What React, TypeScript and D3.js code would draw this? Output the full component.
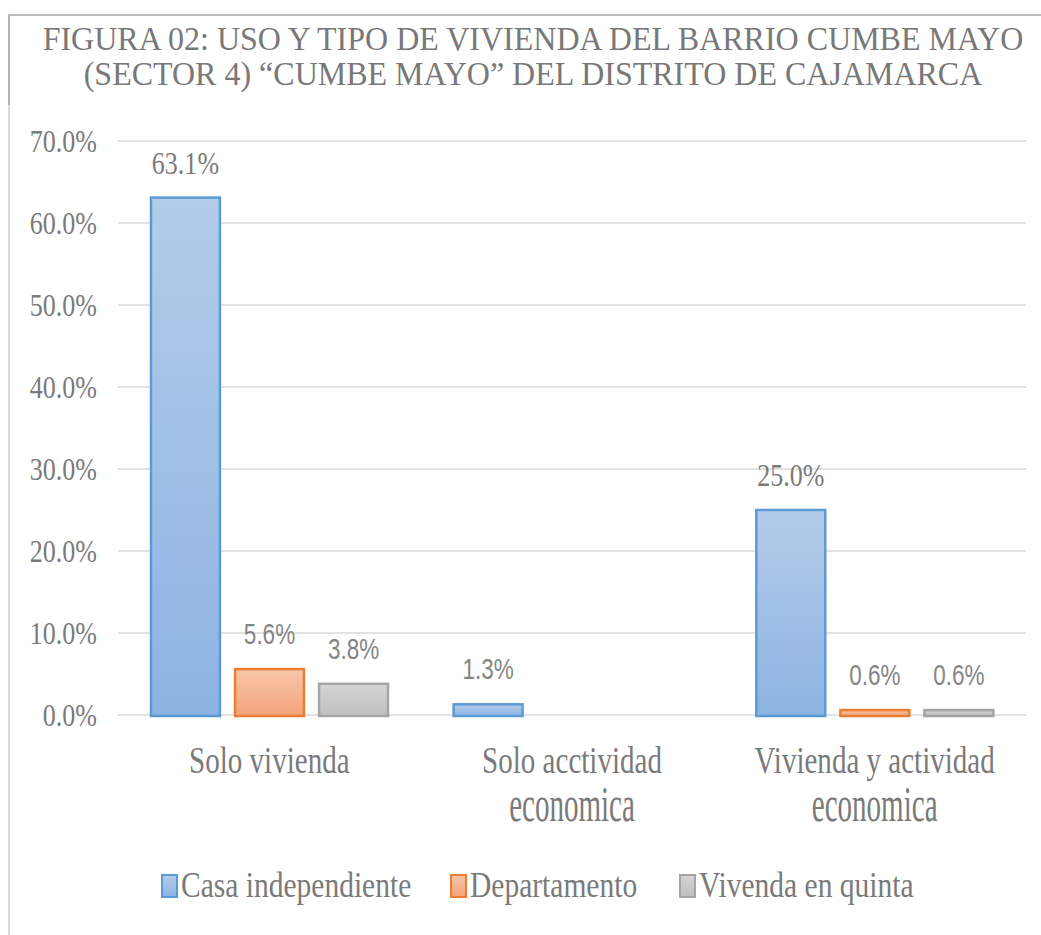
import React from "react";
import * as d3 from "d3";

const titleLines = [
  "FIGURA 02: USO Y TIPO DE VIVIENDA DEL BARRIO CUMBE MAYO",
  "(SECTOR 4) \u201CCUMBE MAYO\u201D DEL DISTRITO DE CAJAMARCA",
];
const categories = ["Solo vivienda", "Solo acctividad economica", "Vivienda y actividad economica"];
const categoryLines = [["Solo vivienda"], ["Solo acctividad", "economica"], ["Vivienda y actividad", "economica"]];
const seriesNames = ["Casa independiente", "Departamento", "Vivenda en quinta"];
const casaIndependiente: (number | null)[] = [63.1, 1.3, 25.0];
const departamento: (number | null)[] = [5.6, null, 0.6];
const viviendaQuinta: (number | null)[] = [3.8, null, 0.6];
const seriesValues = [casaIndependiente, departamento, viviendaQuinta];
const yTicks = [0, 10, 20, 30, 40, 50, 60, 70];

const strokeColors = ["#5B9BD5", "#ED7D31", "#A5A5A5"];
const gradTop = ["#B3CCEA", "#F7C6AB", "#D4D4D4"];
const gradBottom = ["#8DB3E2", "#F4A47A", "#BFBFBF"];

const SERIF = '"Liberation Serif", "Times New Roman", Tinos, "DejaVu Serif", serif';
const SANS = '"Liberation Sans", Arial, sans-serif';

export default function App() {
  const W = 1041;
  const H = 935;
  const plotLeft = 118;
  const plotRight = 1026;
  const y = d3.scaleLinear().domain([0, 70]).range([715, 141]);
  const x0 = d3.scaleBand<string>().domain(categories).range([plotLeft, plotRight]).padding(0);
  const x1 = d3.scaleBand<string>().domain(seriesNames).range([33, 270]).paddingInner(0.18).paddingOuter(0);
  const fmt = (v: number) => d3.format(".1f")(v) + "%";

  const legendX = [162, 451, 680];
  const serifStyle = { fontFamily: SERIF };
  const sansStyle = { fontFamily: SANS };

  return (
    <svg width={W} height={H} style={{ position: "absolute", left: 0, top: 0, background: "#fff" }}>
      <defs>
        {seriesNames.map((s, i) => (
          <linearGradient key={s} id={`g${i}`} x1="0" y1="0" x2="0" y2="1">
            <stop offset="0%" stopColor={gradTop[i]} />
            <stop offset="100%" stopColor={gradBottom[i]} />
          </linearGradient>
        ))}
      </defs>
      <rect x={0} y={0} width={W} height={H} fill="#fff" />
      {/* frame */}
      <line x1={8} x2={W} y1={15} y2={15} stroke="#bdbdbd" strokeWidth={2} />
      <line x1={9} x2={9} y1={15} y2={105} stroke="#b5b5b5" strokeWidth={2} />
      <line x1={9} x2={9} y1={105} y2={H} stroke="#d9d9d9" strokeWidth={2} />

      {/* title */}
      {titleLines.map((t, i) => (
        <text
          key={i}
          transform={`translate(533,${50 + i * 35}) scale(0.97,1.03)`}
          textAnchor="middle"
          style={serifStyle}
          fontSize={33}
          fill="#787878"
        >
          {t}
        </text>
      ))}

      {/* gridlines + y labels */}
      {yTicks.map((t) => (
        <g key={t}>
          <line x1={plotLeft} x2={plotRight} y1={y(t)} y2={y(t)} stroke="#d9d9d9" strokeWidth={1.5} />
          <text
            transform={`translate(97,${y(t) + 11}) scale(0.84,1)`}
            textAnchor="end"
            style={serifStyle}
            fontSize={31}
            fill="#7a7a7a"
          >
            {fmt(t)}
          </text>
        </g>
      ))}

      {/* bars */}
      {categories.map((c, ci) => (
        <g key={c} transform={`translate(${x0(c)},0)`}>
          {seriesNames.map((s, si) => {
            const v = seriesValues[si][ci];
            if (v == null) return null;
            const bx = x1(s)!;
            const bw = x1.bandwidth();
            const top = y(v);
            return (
              <g key={s}>
                <rect
                  x={bx}
                  y={top}
                  width={bw}
                  height={y(0) - top + 1}
                  fill={`url(#g${si})`}
                  stroke={strokeColors[si]}
                  strokeWidth={2.5}
                />
                {v >= 10 ? (
                  <text
                    transform={`translate(${bx + bw / 2},${top - 24}) scale(0.84,1)`}
                    textAnchor="middle"
                    style={serifStyle}
                    fontSize={31}
                    fill="#7a7a7a"
                  >
                    {fmt(v)}
                  </text>
                ) : (
                  <text
                    transform={`translate(${bx + bw / 2},${top - 25}) scale(0.75,1)`}
                    textAnchor="middle"
                    style={sansStyle}
                    fontSize={30}
                    fill="#858585"
                  >
                    {fmt(v)}
                  </text>
                )}
              </g>
            );
          })}
        </g>
      ))}

      {/* category labels */}
      {categories.map((c, ci) => {
        const cx = x0(c)! + x0.bandwidth() / 2;
        return (
          <g key={c}>
            {categoryLines[ci].map((ln, li) => (
              <text
                key={li}
                transform={li === 0 ? `translate(${cx},773) scale(0.785,1)` : `translate(${cx},821) scale(0.785,1.39)`}
                textAnchor="middle"
                style={serifStyle}
                fontSize={37}
                fill="#7a7a7a"
              >
                {ln}
              </text>
            ))}
          </g>
        );
      })}

      {/* legend */}
      {seriesNames.map((s, i) => (
        <g key={s}>
          <rect
            x={legendX[i]}
            y={875}
            width={15}
            height={22}
            fill={`url(#g${i})`}
            stroke={strokeColors[i]}
            strokeWidth={2}
          />
          <text
            transform={`translate(${legendX[i] + 19},897) scale(0.82,1)`}
            style={serifStyle}
            fontSize={36}
            fill="#7a7a7a"
          >
            {s}
          </text>
        </g>
      ))}
    </svg>
  );
}
